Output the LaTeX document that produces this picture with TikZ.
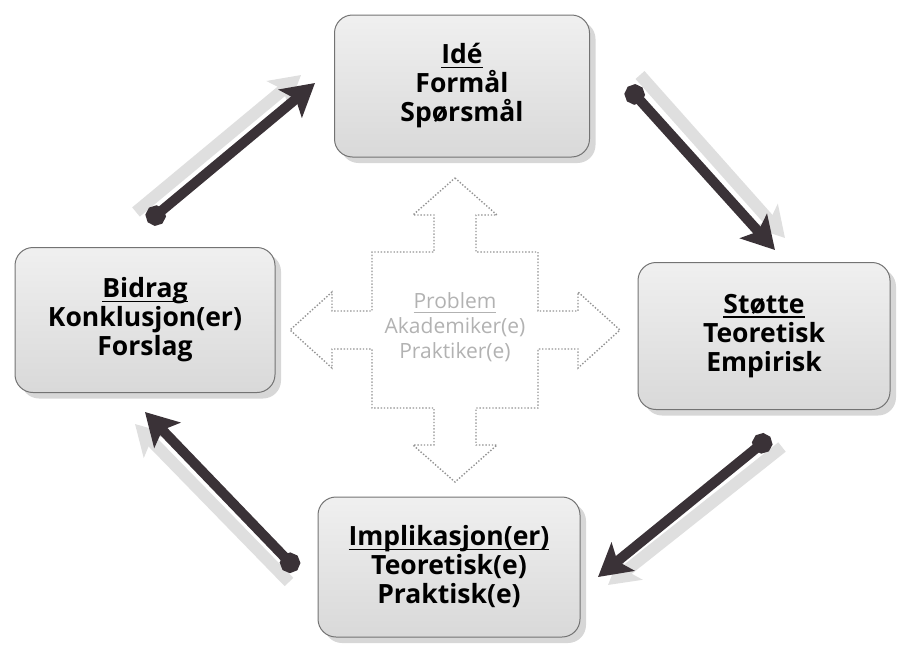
\documentclass[tikz,border=0pt]{standalone}
\usepackage{fontspec}
\setmainfont[Ligatures=NoCommon]{Open Sans}
\usetikzlibrary{arrows.meta,shadows,calc}
\definecolor{arrowdark}{RGB}{58,50,55}
\definecolor{boxline}{RGB}{115,115,115}
\newcommand{\headul}[2][1.6pt]{\setbox0\hbox{#2}\rlap{\rule[-4.5pt]{\wd0}{#1}}\box0}
\tikzset{
  stagebox/.style={rounded corners=18pt, draw=boxline, line width=1pt,
    top color=gray!12, middle color=white, bottom color=gray!30,
    align=center, inner sep=0pt,
    font=\fontsize{26.5}{29}\selectfont\bfseries,
    drop shadow={shadow xshift=6pt, shadow yshift=-6pt, fill=gray!45, opacity=0.7}},
  cyclearrow/.style={draw=arrowdark, line width=10pt,
    {Circle[length=20pt,width=20pt]}-{Stealth[length=32pt,width=36pt,inset=7pt]}},
  ghostarrow/.style={draw=gray!25, line width=12pt,
    -{Stealth[length=30pt,width=34pt,inset=7pt]}},
  crossline/.style={draw=gray!85, line width=1.4pt, dash pattern=on 1.4pt off 1.8pt},
  centertext/.style={align=center, text=gray!60, font=\fontsize{21}{25}\selectfont}
}
\begin{document}
\begin{tikzpicture}[x=1pt,y=-1pt]
\useasboundingbox (0,0) rectangle (897,651);
% center cross
\draw[crossline] (455,178) -- (497,215) -- (476,215) -- (476,252) -- (538,252) -- (538,311)
  -- (578,311) -- (578,292) -- (620,330) -- (578,368) -- (578,349) -- (538,349) -- (538,408)
  -- (476,408) -- (476,445) -- (497,445) -- (455,482) -- (413,445) -- (434,445) -- (434,408)
  -- (372,408) -- (372,349) -- (332,349) -- (332,368) -- (290,330) -- (332,292) -- (332,311)
  -- (372,311) -- (372,252) -- (434,252) -- (434,215) -- (413,215) -- cycle;
\node[centertext] (problem) at (455,327) {\headul[1pt]{Problem}\\Akademiker(e)\\Praktiker(e)};
% boxes
\node[stagebox, minimum width=255pt, minimum height=142pt] (ide) at (462,86)
  {\headul{Idé}\\Formål\\Spørsmål};
\node[stagebox, minimum width=260pt, minimum height=145pt] (bidrag) at (145,320)
  {\headul{Bidrag}\\Konklusjon(er)\\Forslag};
\node[stagebox, minimum width=252pt, minimum height=147pt] (stotte) at (764,336)
  {\headul{Støtte}\\Teoretisk\\Empirisk};
\node[stagebox, minimum width=262pt, minimum height=140pt] (impl) at (449,567)
  {\headul{Implikasjon(er)}\\Teoretisk(e)\\Praktisk(e)};
% arrow end points
\coordinate (a1s) at (148,222); \coordinate (a1e) at (315,83);
\coordinate (a2s) at (628,87);  \coordinate (a2e) at (775,250);
\coordinate (a3s) at (770,437); \coordinate (a3e) at (598,577);
\coordinate (a4s) at (297,570); \coordinate (a4e) at (145,412);
% ghost shadows
\draw[ghostarrow] ($(a1s)+(-12,-10)$) -- ($(a1e)+(-14,-8)$);
\draw[ghostarrow] ($(a2s)+(12,-12)$) -- ($(a2e)+(10,-12)$);
\draw[ghostarrow] ($(a3s)+(12,10)$) -- ($(a3e)+(10,8)$);
\draw[ghostarrow] ($(a4s)+(-8,12)$) -- ($(a4e)+(-10,12)$);
% arrows
\draw[cyclearrow] (a1s) -- (a1e);
\draw[cyclearrow] (a2s) -- (a2e);
\draw[cyclearrow] (a3s) -- (a3e);
\draw[cyclearrow] (a4s) -- (a4e);
\end{tikzpicture}
\end{document}
